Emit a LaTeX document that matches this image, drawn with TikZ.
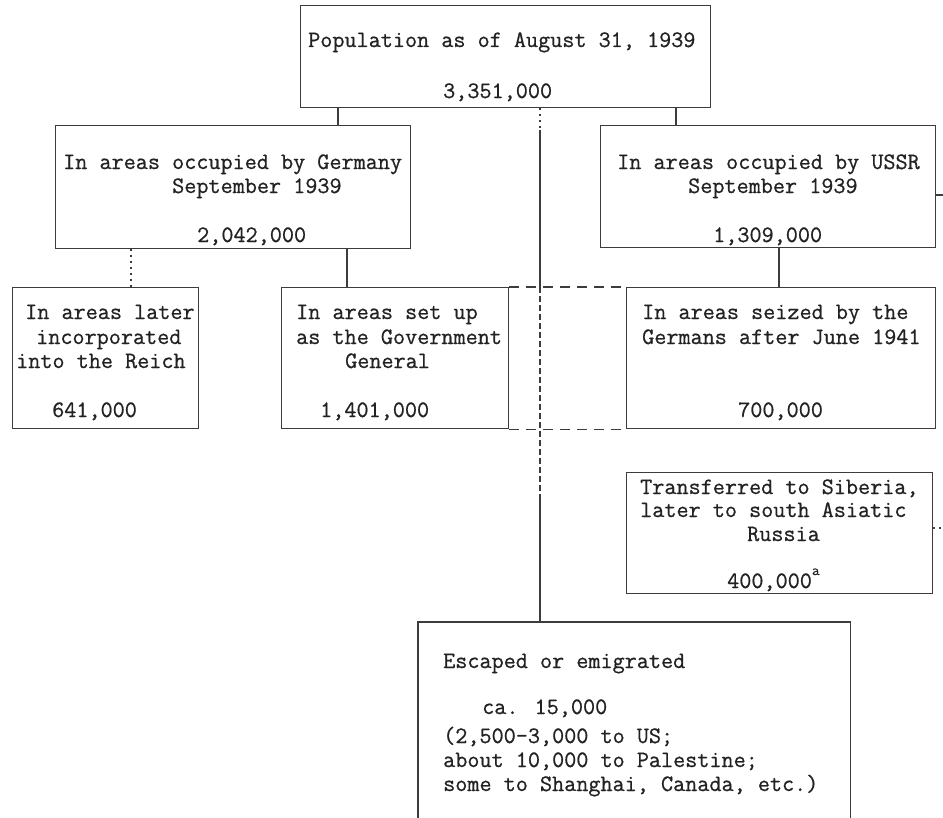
\documentclass[tikz,border=0pt]{standalone}
\usepackage{fontspec}
\newfontfamily\twfont[FakeBold=0.7]{Latin Modern Mono}
\definecolor{ink}{HTML}{222222}
\definecolor{rulec}{HTML}{3c3c3c}
\tikzset{
  boxst/.style={draw=rulec, line width=1.2bp, rectangle, inner sep=0pt, anchor=north west},
  openbox/.style={draw=none, rectangle, inner sep=0pt, anchor=north west},
  txt/.style={font=\twfont\fontsize{23.5bp}{26bp}\selectfont, text=ink, inner sep=0pt, anchor=base west},
  link/.style={draw=rulec, line width=1.2bp},
  dotlink/.style={draw=rulec, line width=1.2bp, dash pattern=on 2bp off 4bp},
  brokenlink/.style={draw=rulec, line width=1.1bp, dash pattern=on 6bp off 3bp},
  dashlink/.style={draw=rulec, line width=1.2bp, dash pattern=on 10bp off 7bp},
}
\begin{document}
\begin{tikzpicture}[x=1bp,y=-1bp]
\useasboundingbox[fill=white] (0,0) rectangle (943,818);

% boxes
\node[boxst, minimum width=410bp, minimum height=102bp] (top) at (300,5) {};
\node[boxst, minimum width=355bp, minimum height=123bp] (ger) at (55,125) {};
\node[boxst, minimum width=335bp, minimum height=122bp] (ussr) at (600,125) {};
\node[boxst, minimum width=186bp, minimum height=141bp] (left) at (12,287) {};
\node[boxst, minimum width=227bp, minimum height=141bp] (mid) at (281,287) {};
\node[boxst, minimum width=309bp, minimum height=141bp] (seiz) at (626,287) {};
\node[boxst, minimum width=306bp, minimum height=121bp] (trans) at (626,472) {};
\node[openbox, minimum width=432bp, minimum height=200bp] (esc) at (418,622) {};
\draw[link] (esc.south west) -- (esc.north west) -- (esc.north east) -- (esc.south east);

% texts
\node[txt] (t1) at (308,47) {Population as of August 31, 1939};
\node[txt] (t2) at (443,98) {3,351,000};

\node[txt] (g1) at (63,169) {In areas occupied by Germany};
\node[txt] (g2) at (172,193) {September 1939};
\node[txt] (g3) at (197,242) {2,042,000};

\node[txt] (u1) at (617,169) {In areas occupied by USSR};
\node[txt] (u2) at (688,193) {September 1939};
\node[txt] (u3) at (713,242) {1,309,000};

\node[txt] (l1) at (25,319) {In areas later};
\node[txt] (l2) at (36,344) {incorporated};
\node[txt] (l3) at (16,368) {into the Reich};
\node[txt] (l4) at (52,417) {641,000};

\node[txt] (m1t) at (296,319) {In areas set up};
\node[txt] (m2t) at (296,344) {as the Government};
\node[txt] (m3t) at (345,368) {General};
\node[txt] (m4t) at (320,417) {1,401,000};

\node[txt] (s1) at (642,319) {In areas seized by the};
\node[txt] (s2) at (642,344) {Germans after June 1941};
\node[txt] (s3) at (738,417) {700,000};

\node[txt] (r1t) at (640,494) {Transferred to Siberia,};
\node[txt] (r2t) at (640,517) {later to south Asiatic};
\node[txt] (r3t) at (747,541) {Russia};
\node[txt] (r4t) at (727,588) {400,000\raisebox{0.55em}{\fontsize{15bp}{15bp}\selectfont a}};

\node[txt] (e1) at (443,668) {Escaped or emigrated};
\node[txt] (e2) at (482,714) {ca. 15,000};
\node[txt] (e3) at (443,743) {(2,500-3,000 to US;};
\node[txt] (e4) at (443,767) {about 10,000 to Palestine;};
\node[txt] (e5) at (443,791) {some to Shanghai, Canada, etc.)};

% connector guides
\coordinate (cA) at (338,0);
\coordinate (cB) at (676,0);
\coordinate (cC) at (131,0);
\coordinate (cD) at (347,0);
\coordinate (cE) at (779,0);
\coordinate (cX) at (540,0);
\coordinate (k1) at (540,130);
\coordinate (k2) at (540,495);
\coordinate (endA) at (943,195);
\coordinate (endB) at (943,528);

% connectors
\draw[link] (cA |- top.south) -- (cA |- ger.north);
\draw[link] (cB |- top.south) -- (cB |- ussr.north);
\draw[dotlink] (cC |- ger.south) -- (cC |- left.north);
\draw[link] (cD |- ger.south) -- (cD |- mid.north);
\draw[link] (cE |- ussr.south) -- (cE |- seiz.north);

\draw[dotlink] (cX |- top.south) -- (k1);
\draw[link] (k1) -- (cX |- mid.north);
\draw[brokenlink] (cX |- mid.north) -- (k2);
\draw[link] (k2) -- (cX |- esc.north);

\draw[dashlink] (mid.north east) -- (seiz.north west);
\draw[dashlink] (mid.south east) -- (seiz.south west);

\draw[link] (endA -| ussr.east) -- (endA);
\draw[dotlink] (endB -| trans.east) -- (endB);
\end{tikzpicture}
\end{document}
